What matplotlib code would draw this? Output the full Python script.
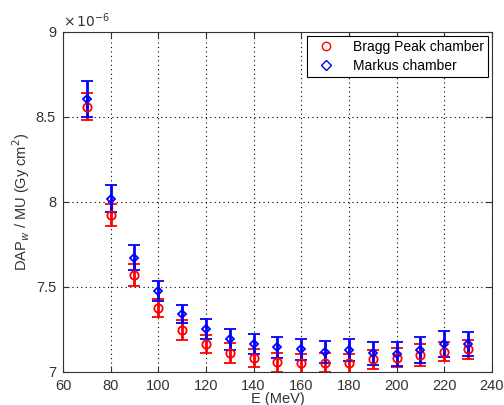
import numpy as np
import matplotlib
matplotlib.use('Agg')
import matplotlib.pyplot as plt
from matplotlib.lines import Line2D

plt.rcParams['font.family'] = ['Liberation Sans', 'DejaVu Sans']
plt.rcParams['font.size'] = 10.5

# Beam energy (MeV)
energy = np.array([70, 80, 90, 100, 110, 120, 130, 140, 150, 160,
                   170, 180, 190, 200, 210, 220, 230])

# DAP_w / MU in units of 1e-6 Gy cm^2
bragg = np.array([8.561, 7.924, 7.572, 7.376, 7.247, 7.165, 7.110, 7.082, 7.057, 7.051,
                  7.055, 7.051, 7.074, 7.084, 7.100, 7.119, 7.133])
bragg_err = np.array([0.080, 0.066, 0.064, 0.055, 0.056, 0.054, 0.060, 0.055, 0.055, 0.055,
                      0.055, 0.055, 0.056, 0.056, 0.064, 0.057, 0.056])
markus = np.array([8.606, 8.020, 7.672, 7.478, 7.341, 7.253, 7.192, 7.165, 7.145, 7.133,
                   7.119, 7.129, 7.110, 7.106, 7.129, 7.165, 7.165])
markus_err = np.array([0.105, 0.080, 0.074, 0.060, 0.054, 0.058, 0.063, 0.059, 0.062, 0.060,
                       0.065, 0.064, 0.068, 0.069, 0.078, 0.074, 0.070])

fig = plt.figure(figsize=(5.04, 4.05), dpi=100)
ax = fig.add_axes([0.125, 0.0815, 0.851, 0.8395])

ax.errorbar(energy, bragg, yerr=bragg_err, fmt='o', color='red', mfc='none',
            ms=6, mew=1.3, elinewidth=2, capsize=4, capthick=2)
ax.errorbar(energy, markus, yerr=markus_err, fmt='D', color='blue', mfc='none',
            ms=4.5, mew=1.3, elinewidth=2, capsize=4, capthick=2)

ax.set_xlim(60, 240)
ax.set_ylim(7, 9)
ax.set_xticks(np.arange(60, 241, 20))
ax.set_yticks([7, 7.5, 8, 8.5, 9])
ax.set_yticklabels(['7', '7.5', '8', '8.5', '9'])
ax.grid(True, linestyle=(0, (1, 3)), color='black', linewidth=0.8)
ax.tick_params(direction='in', top=True, right=True, length=4, colors='#333333')
ax.tick_params(axis='x', pad=5)
ax.tick_params(axis='y', pad=5)
for s in ax.spines.values():
    s.set_color('#333333')

ax.set_xlabel('E (MeV)', labelpad=-1, color='#333333')
ax.set_ylabel('DAP$_w$ / MU (Gy cm$^2$)', labelpad=3, color='#333333')
ax.text(0.0, 1.005, r'$\times\,10^{-6}$', transform=ax.transAxes,
        ha='left', va='bottom', fontsize=10, color='#333333')

handles = [
    Line2D([], [], ls='none', marker='o', color='red', mfc='none', ms=6, mew=1),
    Line2D([], [], ls='none', marker='D', color='blue', mfc='none', ms=5, mew=1),
]
leg = ax.legend(handles, ['Bragg Peak chamber', 'Markus chamber'],
                loc='upper right', fancybox=False, framealpha=1, fontsize=10,
                edgecolor='black', borderaxespad=0.3, handletextpad=0.8,
                handlelength=2.2, labelspacing=0.35, borderpad=0.3)
leg.get_frame().set_linewidth(0.8)

fig.savefig('out.png', dpi=100)
